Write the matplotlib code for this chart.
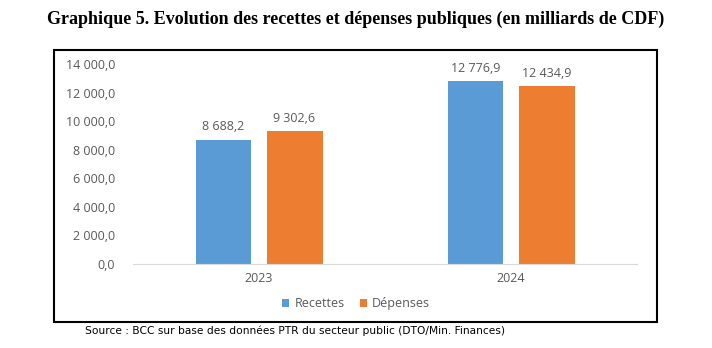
import matplotlib
matplotlib.use("Agg")
import matplotlib.pyplot as plt
import numpy as np
from matplotlib.patches import Rectangle

years = ["2023", "2024"]
recettes = [8688.2, 12776.9]
depenses = [9302.6, 12434.9]
yticks = [0, 2000, 4000, 6000, 8000, 10000, 12000, 14000]

blue = "#5b9bd5"
orange = "#ed7d31"
grey = "#595959"


def fmt(v):
    s = f"{v:,.1f}"
    return s.replace(",", " ").replace(".", ",")


fig = plt.figure(figsize=(7.12, 3.48), dpi=100)
ax = fig.add_axes([0.1868, 0.2414, 0.7079, 0.5747])

x = np.arange(len(years))
w = 0.222
off = 0.141
b1 = ax.bar(x - off, recettes, w, color=blue, label="Recettes")
b2 = ax.bar(x + off, depenses, w, color=orange, label="Dépenses")

for bars, vals in ((b1, recettes), (b2, depenses)):
    for b, v in zip(bars, vals):
        ax.text(b.get_x() + b.get_width() / 2, v + 450, fmt(v),
                ha="center", va="bottom", fontsize=9, color=grey,
                family="Open Sans")

ax.set_xlim(-0.5, 1.5)
ax.set_ylim(0, 14000)
ax.set_yticks(yticks)
ax.set_yticklabels([fmt(t) for t in yticks], family="Open Sans", fontsize=9, color=grey)
ax.set_xticks(x)
ax.set_xticklabels(years, family="Open Sans", fontsize=9, color=grey)
ax.tick_params(length=0, pad=6)
ax.tick_params(axis="y", pad=13)
for s in ["top", "right", "left"]:
    ax.spines[s].set_visible(False)
ax.spines["bottom"].set_color("#d9d9d9")

leg = fig.legend(handles=[b1, b2], loc="center", bbox_to_anchor=(0.5, 0.128),
                 ncol=2, frameon=False, handlelength=0.6, handleheight=0.6,
                 columnspacing=1.2, handletextpad=0.4,
                 prop={"family": "Open Sans", "size": 9})
for t in leg.get_texts():
    t.set_color(grey)

fig.patches.append(Rectangle((0.0758, 0.0747), 0.847, 0.782, transform=fig.transFigure,
                             fill=False, edgecolor="black", linewidth=1.5))

fig.text(0.5, 0.945, "Graphique 5. Evolution des recettes et dépenses publiques (en milliards de CDF)",
         ha="center", va="center", fontsize=13, fontweight="bold", family="Liberation Serif")
fig.text(0.119, 0.05, "Source : BCC sur base des données PTR du secteur public (DTO/Min. Finances)",
         ha="left", va="center", fontsize=7.7, family="DejaVu Sans")

fig.savefig("out.png", dpi=100)
